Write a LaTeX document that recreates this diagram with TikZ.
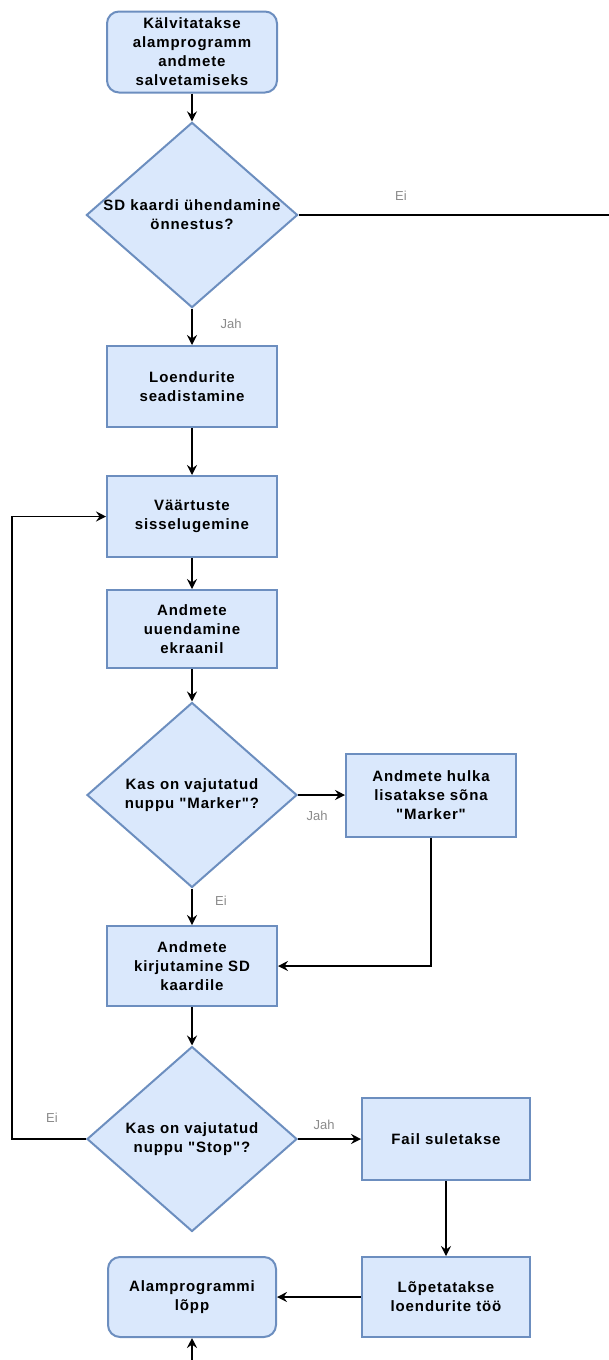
\documentclass[tikz,border=0pt]{standalone}
\usepackage{fontspec}
\setmainfont{Liberation Sans}[Ligatures=TeXOff]
\newfontfamily\boxfont{Liberation Sans}[Ligatures=TeXOff,LetterSpace=6]
\usetikzlibrary{shapes.geometric,arrows.meta}
\definecolor{boxfill}{HTML}{DAE8FC}
\definecolor{boxline}{HTML}{6C8EBF}
\definecolor{labelgray}{HTML}{8A8A8A}
\begin{document}
\begin{tikzpicture}[x=1pt,y=-1pt,
  base/.style={fill=boxfill,draw=boxline,line width=2pt,align=center,
    font=\boxfont\fontsize{15pt}{19pt}\selectfont\bfseries,inner sep=0pt},
  procbox/.style={base,rectangle,minimum width=170pt,minimum height=81pt},
  termbox/.style={procbox,rounded corners=12pt},
  decision/.style={base,diamond,aspect=1.14,minimum width=210pt,minimum height=185pt},
  flow/.style={line width=1.5pt,-{Stealth[length=10pt,width=10pt,inset=3.5pt]}},
  plainline/.style={line width=1.5pt},
  edgelabel/.style={font=\fontsize{13pt}{15pt}\selectfont,text=labelgray,inner sep=0pt}
]
\useasboundingbox (0,0) rectangle (609,1360);

% main column
\node[termbox]  (start)  at (192,52)     {Kälvitatakse\\alamprogramm\\andmete\\salvetamiseks};
\node[decision] (sdok)   at (192,215)    {SD kaardi ühendamine\\önnestus?};
\node[procbox]  (loend)  at (192,386.5)  {Loendurite\\seadistamine};
\node[procbox]  (vaart)  at (192,516.5)  {Väärtuste\\sisselugemine};
\node[procbox,minimum height=78pt] (uuend) at (192,629) {Andmete\\uuendamine\\ekraanil};
\node[decision] (marq)   at (192,795)    {Kas on vajutatud\\nuppu "Marker"?};
\node[procbox,minimum height=83pt] (marker) at (431,795) {Andmete hulka\\lisatakse sõna\\"Marker"};
\node[procbox,minimum height=80pt] (kirj) at (192,966) {Andmete\\kirjutamine SD\\kaardile};
\node[decision] (stopq)  at (192,1139)   {Kas on vajutatud\\nuppu "Stop"?};
\node[procbox,minimum width=168pt,minimum height=82pt] (fail)  at (446,1139) {Fail suletakse};
\node[procbox,minimum width=168pt,minimum height=80pt] (lopet) at (446,1297) {Lõpetatakse\\loendurite töö};
\node[termbox,minimum width=168pt,minimum height=80pt] (lopp)  at (192,1297) {Alamprogrammi\\lõpp};

% loose ends and bends
\coordinate (rightend) at (609,215);
\coordinate (loopx)    at (12,1139);
\coordinate (bottomend) at (192,1360);

% connectors
\draw[flow] (start) -- (sdok);
\draw[plainline] (sdok.east) -- (rightend);
\draw[flow] (sdok) -- (loend);
\draw[flow] (loend) -- (vaart);
\draw[flow] (vaart) -- (uuend);
\draw[flow] (uuend) -- (marq);
\draw[flow] (marq.east) -- (marker.west);
\draw[flow] (marq) -- (kirj);
\draw[flow] (marker.south) |- (kirj.east);
\draw[flow] (kirj) -- (stopq);
\draw[flow] (stopq.west) -- (loopx) |- (vaart.west);
\draw[flow] (stopq.east) -- (fail.west);
\draw[flow] (fail) -- (lopet);
\draw[flow] (lopet.west) -- (lopp.east);
\draw[flow] (bottomend) -- (lopp.south);

% branch labels
\node[edgelabel] (lblsdei)   at (401,196)  {Ei};
\node[edgelabel] (lblsdjah)  at (231,324)  {Jah};
\node[edgelabel] (lblmjah)   at (317,816)  {Jah};
\node[edgelabel] (lblmei)    at (221,901)  {Ei};
\node[edgelabel] (lblstopei) at (52,1118)  {Ei};
\node[edgelabel] (lblstopjah) at (324,1125) {Jah};
\end{tikzpicture}
\end{document}
